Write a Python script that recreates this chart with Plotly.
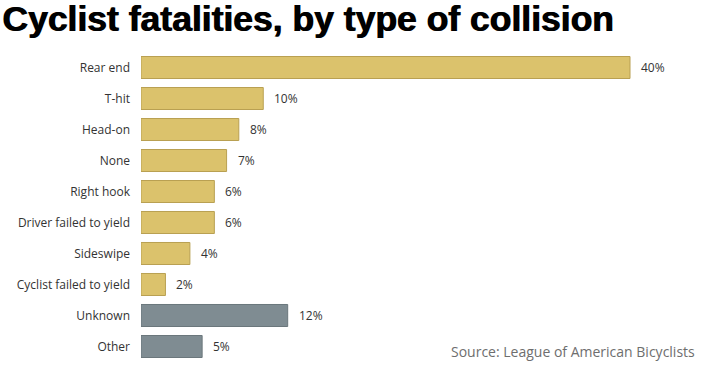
import plotly.graph_objects as go

categories = ["Rear end", "T-hit", "Head-on", "None", "Right hook",
              "Driver failed to yield", "Sideswipe", "Cyclist failed to yield",
              "Unknown", "Other"]
values = [40, 10, 8, 7, 6, 6, 4, 2, 12, 5]
groups = ["known"] * 8 + ["other"] * 2

fill = {"known": "#dbc26c", "other": "#7f8c92"}
edge = {"known": "#b9a052", "other": "#6b777c"}

W, H = 718, 376
ML, MR, MT, MB = 141, 21, 52, 14
PW, PH = W - ML - MR, H - MT - MB

fig = go.Figure()
fig.add_trace(go.Bar(
    y=categories, x=values, orientation="h",
    marker=dict(color=[fill[g] for g in groups],
                line=dict(color=[edge[g] for g in groups], width=1)),
    hoverinfo="skip",
))

for c, v in zip(categories, values):
    fig.add_annotation(x=v, y=c, text=f"{v}%", showarrow=False,
                       xanchor="left", xshift=9,
                       font=dict(family="Open Sans, Noto Sans, sans-serif", size=12, color="#333"))

fig.add_annotation(xref="paper", yref="paper", x=1.0, y=0.035,
                   xanchor="right", yanchor="middle",
                   text="Source: League of American Bicyclists", showarrow=False,
                   font=dict(family="Open Sans, Noto Sans, sans-serif", size=14, color="#6e6e6e"))

# title as annotation
fig.add_annotation(xref="paper", yref="paper",
                   x=(0 - ML) / PW, y=1 + (MT + 3) / PH,
                   xanchor="left", yanchor="top", showarrow=False,
                   text="<b>Cyclist fatalities, by type of collision</b>",
                   font=dict(family="Liberation Sans, Arial, sans-serif", size=35.5,
                             color="#000", shadow="1px 0px 0px #000"))

fig.update_layout(
    width=W, height=H,
    margin=dict(l=ML, r=MR, t=MT, b=MB, pad=0),
    paper_bgcolor="white", plot_bgcolor="white",
    showlegend=False,
    bargap=0.29,
    xaxis=dict(range=[0, 40 * PW / 489], visible=False, fixedrange=True),
    yaxis=dict(autorange="reversed", showgrid=False, zeroline=False, showline=False,
               ticks="", ticklabelstandoff=10, automargin=False, fixedrange=True,
               tickfont=dict(family="Open Sans, Noto Sans, sans-serif", size=12, color="#333")),
)

fig.write_html("out.html", config={"displayModeBar": False},
               post_script="document.body.style.margin='0';")
